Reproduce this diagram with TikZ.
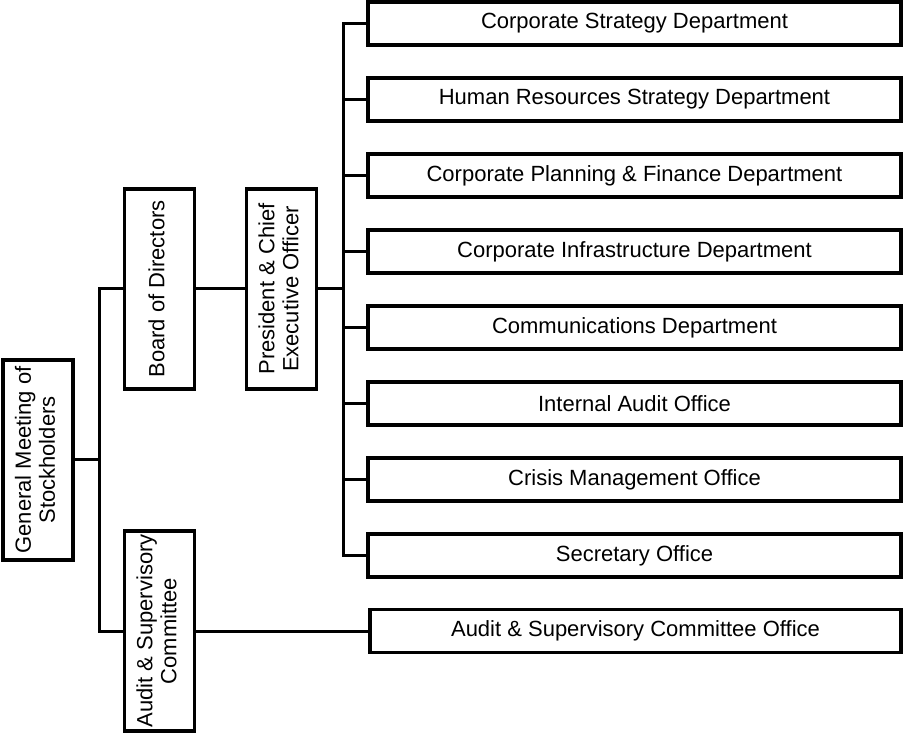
\documentclass[tikz,border=0pt]{standalone}
\usepackage{fontspec}
\usepackage{graphicx}
\setmainfont{Liberation Sans}
\newcommand{\vtxt}[1]{\rotatebox{90}{\begin{tabular}{@{}c@{}}#1\end{tabular}}}
\begin{document}
\begin{tikzpicture}[x=1pt,y=1pt,
  every node/.style={font=\fontsize{22}{24}\selectfont},
  vbox/.style={draw,line width=3.4pt,inner sep=0pt,minimum width=70pt,minimum height=200pt},
  hbox/.style={draw,line width=3.4pt,inner sep=0pt,minimum width=533pt,minimum height=43pt},
  conn/.style={line width=3pt}]
\useasboundingbox (0,0) rectangle (906,-735);
\fill[white] (0,0) rectangle (906,-735);
\node[vbox] (gm) at (38,-460) {\vtxt{General Meeting of\\Stockholders}};
\node[vbox] (bod) at (159.5,-289) {\vtxt{Board of Directors}};
\node[vbox] (pres) at (281.5,-289) {\vtxt{President \& Chief\\Executive Officer}};
\node[vbox] (asc) at (159.5,-631) {\vtxt{Audit \& Supervisory\\Committee}};
\node[hbox] (r1) at (634.5,-23.5) {Corporate Strategy Department};
\node[hbox] (r2) at (634.5,-99.5) {Human Resources Strategy Department};
\node[hbox] (r3) at (634.5,-175.5) {Corporate Planning \& Finance Department};
\node[hbox] (r4) at (634.5,-251.5) {Corporate Infrastructure Department};
\node[hbox] (r5) at (634.5,-327.5) {Communications Department};
\node[hbox] (r6) at (634.5,-403.5) {Internal Audit Office};
\node[hbox] (r7) at (634.5,-479.5) {Crisis Management Office};
\node[hbox] (r8) at (634.5,-555.5) {Secretary Office};
\node[hbox,minimum width=531pt] (ao) at (635.5,-631) {Audit \& Supervisory Committee Office};
\coordinate (j1) at (99,-460);
\coordinate (bus) at (343,-289);
\draw[conn] (gm.east) -- (j1);
\draw[conn] (bod.west) -| (j1) |- (asc.west);
\draw[conn] (bod.east) -- (pres.west);
\draw[conn] (pres.east) -- (bus);
\foreach \r in {r1,r2,r3,r4,r5,r6,r7,r8} {\draw[conn] (bus) |- (\r.west);}
\draw[conn] (asc.east) -- (ao.west);
\end{tikzpicture}
\end{document}
